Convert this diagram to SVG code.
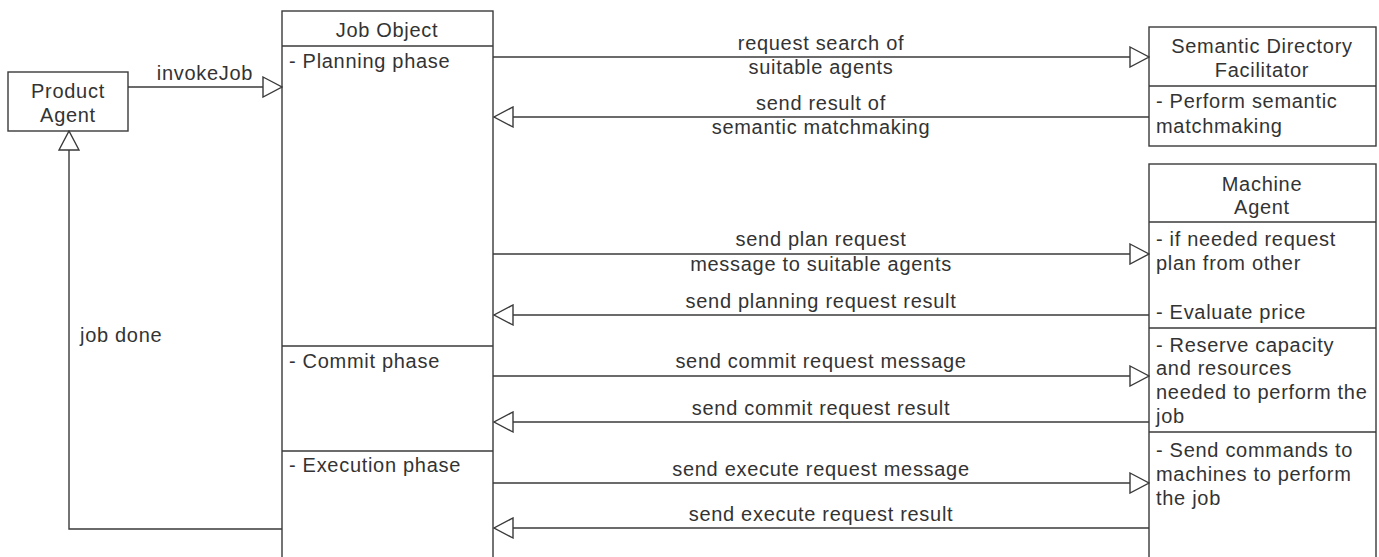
<svg xmlns="http://www.w3.org/2000/svg" width="1379" height="557" viewBox="0 0 1379 557">
<style>
.box{fill:#fff;stroke:#3a3a3a;stroke-width:1.4}
.sep{stroke:#3a3a3a;stroke-width:1.4;fill:none}
.con{stroke:#3a3a3a;stroke-width:1.4;fill:none;marker-end:url(#tri)}
text{font-family:"Liberation Sans",Arial,sans-serif;font-size:20px;fill:#333;letter-spacing:0.7px}
.c{text-anchor:middle}
</style>
<defs>
<marker id="tri" viewBox="0 0 21 22" refX="20" refY="11" markerWidth="21" markerHeight="22" markerUnits="userSpaceOnUse" orient="auto">
<path d="M1,1 L20,11 L1,21 Z" fill="#fff" stroke="#3a3a3a" stroke-width="1.4"/>
</marker>
</defs>
<rect width="1379" height="557" fill="#fff"/>

<g id="product-agent">
<rect class="box" x="8" y="72" width="120" height="59"/>
<text class="c" x="68" y="98">Product</text>
<text class="c" x="68" y="122">Agent</text>
</g>

<g id="job-object">
<rect class="box" x="282" y="11" width="211" height="548"/>
<line class="sep" x1="282" y1="46" x2="493" y2="46"/>
<line class="sep" x1="282" y1="346" x2="493" y2="346"/>
<line class="sep" x1="282" y1="451" x2="493" y2="451"/>
<text class="c" x="387" y="37">Job Object</text>
<text x="289" y="68">- Planning phase</text>
<text x="289" y="368">- Commit phase</text>
<text x="289" y="472">- Execution phase</text>
</g>

<g id="semantic-directory-facilitator">
<rect class="box" x="1149" y="27" width="227" height="119"/>
<line class="sep" x1="1149" y1="86" x2="1376" y2="86"/>
<text class="c" x="1262" y="53">Semantic Directory</text>
<text class="c" x="1262" y="77">Facilitator</text>
<text x="1156" y="108">- Perform semantic</text>
<text x="1156" y="133">matchmaking</text>
</g>

<g id="machine-agent">
<rect class="box" x="1149" y="164" width="227" height="395"/>
<line class="sep" x1="1149" y1="222" x2="1376" y2="222"/>
<line class="sep" x1="1149" y1="328" x2="1376" y2="328"/>
<line class="sep" x1="1149" y1="432" x2="1376" y2="432"/>
<text class="c" x="1262" y="191">Machine</text>
<text class="c" x="1262" y="214">Agent</text>
<text x="1156" y="246">- if needed request</text>
<text x="1156" y="270">plan from other</text>
<text x="1156" y="319">- Evaluate price</text>
<text x="1156" y="352">- Reserve capacity</text>
<text x="1156" y="375">and resources</text>
<text x="1156" y="399">needed to perform the</text>
<text x="1156" y="423">job</text>
<text x="1156" y="457">- Send commands to</text>
<text x="1156" y="481">machines to perform</text>
<text x="1156" y="505">the job</text>
</g>

<g id="connectors">
<path class="con" d="M128,87 L282,87"/>
<text class="c" x="205" y="80">invokeJob</text>
<path class="con" d="M282,529 L69,529 L69,131"/>
<text x="80" y="342">job done</text>

<path class="con" d="M493,57 L1149,57"/>
<text class="c" x="821" y="50">request search of</text>
<text class="c" x="821" y="74">suitable agents</text>
<path class="con" d="M1149,117 L494,117"/>
<text class="c" x="821" y="110">send result of</text>
<text class="c" x="821" y="134">semantic matchmaking</text>

<path class="con" d="M493,254 L1149,254"/>
<text class="c" x="821" y="246">send plan request</text>
<text class="c" x="821" y="271">message to suitable agents</text>
<path class="con" d="M1149,315 L494,315"/>
<text class="c" x="821" y="308">send planning request result</text>

<path class="con" d="M493,376 L1149,376"/>
<text class="c" x="821" y="368">send commit request message</text>
<path class="con" d="M1149,422 L494,422"/>
<text class="c" x="821" y="415">send commit request result</text>

<path class="con" d="M493,483 L1149,483"/>
<text class="c" x="821" y="476">send execute request message</text>
<path class="con" d="M1149,528 L494,528"/>
<text class="c" x="821" y="521">send execute request result</text>
</g>
</svg>
